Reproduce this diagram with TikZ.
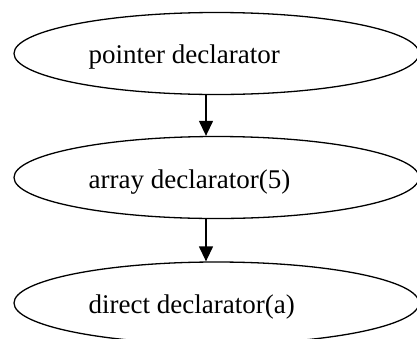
\documentclass[tikz,border=0pt]{standalone}
\usepackage{fontspec}
\setmainfont{Liberation Serif}
\usetikzlibrary{shapes.geometric,arrows.meta}
\begin{document}
\begin{tikzpicture}[x=1pt,y=-1pt,
  ell/.style={draw,ellipse,line width=1.3pt,minimum width=405pt,minimum height=82pt,inner sep=0pt},
  lbl/.style={anchor=base west,inner sep=0pt,font=\fontsize{27}{32}\selectfont},
  conn/.style={line width=1.3pt,-{Triangle[length=15pt,width=14pt]}}]
\useasboundingbox (0,0) rectangle (417,338);
\node[ell] (e1) at (216.5,53.5) {};
\node[ell] (e2) at (216.5,177.5) {};
\node[ell] (e3) at (216.5,303) {};
\node[lbl] (t1) at (88.5,63.3) {pointer declarator};
\node[lbl] (t2) at (88.5,188.3) {array declarator(5)};
\node[lbl] (t3) at (88.5,313.3) {direct declarator(a)};
\draw[conn] ([xshift=-10.5pt]e1.south) -- ([xshift=-10.5pt]e2.north);
\draw[conn] ([xshift=-10.5pt]e2.south) -- ([xshift=-10.5pt]e3.north);
\end{tikzpicture}
\end{document}
